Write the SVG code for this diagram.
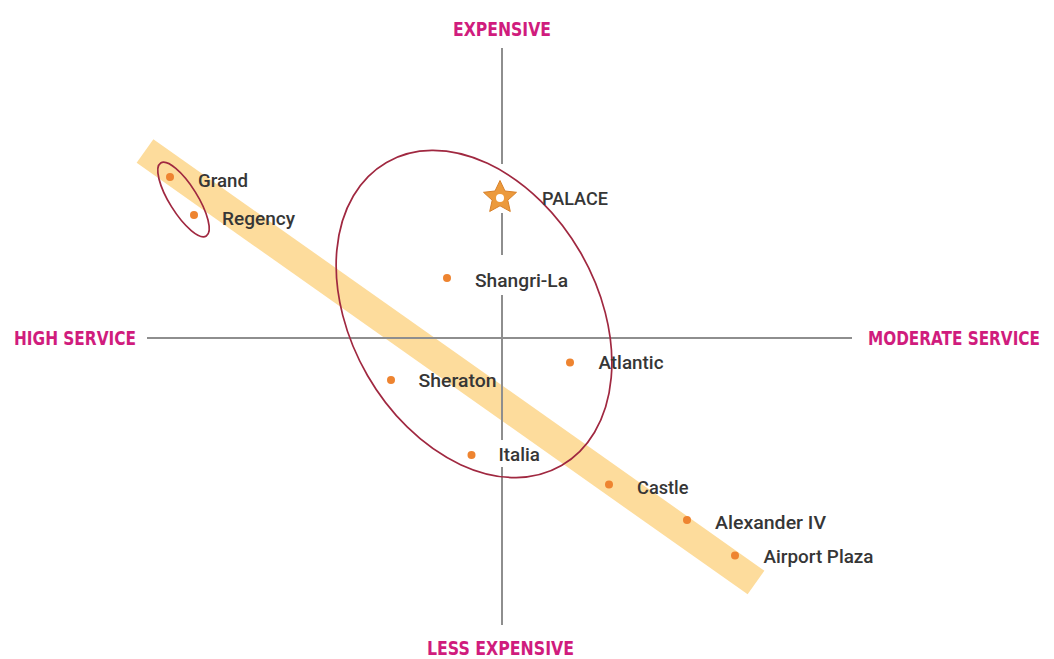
<svg xmlns="http://www.w3.org/2000/svg" width="1054" height="659" viewBox="0 0 1054 659">
<style>
.axis{stroke:#8e8e8e;stroke-width:2;fill:none}
.axlbl{font-family:"Liberation Sans Narrow","DejaVu Sans Condensed","Liberation Sans",sans-serif;font-weight:bold;font-size:16.5px;fill:#d01c7d}
.lbl{font-family:Roboto,"Liberation Sans",sans-serif;font-weight:500;font-size:19px;fill:#363636}
.dot{fill:#ee8430}
.ring{fill:none;stroke:#a02840;stroke-width:1.7}
</style>
<rect width="1054" height="659" fill="#ffffff"/>
<g id="trend-band">
<line x1="145" y1="151" x2="756" y2="582.5" stroke="#fddc9c" stroke-width="29"/>
</g>
<g id="axes">
<line class="axis" x1="147" y1="338" x2="852" y2="338"/>
<path class="axis" d="M502 48V164M502 213V255M502 295V440M502 467V625"/>
<text class="axlbl" transform="translate(453 36) scale(1 1.18)" textLength="98" lengthAdjust="spacingAndGlyphs">EXPENSIVE</text>
<text class="axlbl" transform="translate(427 655) scale(1 1.18)" textLength="147" lengthAdjust="spacingAndGlyphs">LESS EXPENSIVE</text>
<text class="axlbl" transform="translate(14 345) scale(1 1.18)" textLength="122" lengthAdjust="spacingAndGlyphs">HIGH SERVICE</text>
<text class="axlbl" transform="translate(868 345) scale(1 1.18)" textLength="172" lengthAdjust="spacingAndGlyphs">MODERATE SERVICE</text>
</g>
<g id="clusters">
<ellipse class="ring" cx="183.5" cy="199.5" rx="43" ry="14" transform="rotate(58 183.5 199.5)"/>
<ellipse class="ring" cx="474" cy="314" rx="175" ry="123" transform="rotate(60 474 314)"/>
</g>
<g id="grand"><circle class="dot" cx="170" cy="177" r="4"/><text class="lbl" x="198" y="186.5" textLength="50" lengthAdjust="spacingAndGlyphs">Grand</text></g>
<g id="regency"><circle class="dot" cx="194" cy="215" r="4"/><text class="lbl" x="222" y="225" textLength="73" lengthAdjust="spacingAndGlyphs">Regency</text></g>
<g id="palace">
<path d="M500 180.5L505 191L516.5 192.3L507.8 200.2L510.3 211.5L500 205.8L489.7 211.5L492.2 200.2L483.5 192.3L495 191Z" fill="#ec9a3c" stroke="#d8812a" stroke-width="1"/>
<circle cx="500" cy="198" r="4" fill="#ffffff"/>
<text class="lbl" x="542" y="205" textLength="66" lengthAdjust="spacingAndGlyphs">PALACE</text>
</g>
<g id="shangri-la"><circle class="dot" cx="447" cy="278" r="4"/><text class="lbl" x="475" y="286.5" textLength="93" lengthAdjust="spacingAndGlyphs">Shangri-La</text></g>
<g id="atlantic"><circle class="dot" cx="570" cy="362.5" r="4"/><text class="lbl" x="598.5" y="368.5" textLength="65" lengthAdjust="spacingAndGlyphs">Atlantic</text></g>
<g id="sheraton"><circle class="dot" cx="391" cy="380" r="4"/><text class="lbl" x="418.5" y="387" textLength="78" lengthAdjust="spacingAndGlyphs">Sheraton</text></g>
<g id="italia"><circle class="dot" cx="471.5" cy="455" r="4"/><text class="lbl" x="498.5" y="461" textLength="41.5" lengthAdjust="spacingAndGlyphs">Italia</text></g>
<g id="castle"><circle class="dot" cx="609" cy="484.5" r="4"/><text class="lbl" x="637" y="493.5" textLength="51.5" lengthAdjust="spacingAndGlyphs">Castle</text></g>
<g id="alexander-iv"><circle class="dot" cx="687" cy="520" r="4"/><text class="lbl" x="715" y="528.5" textLength="111" lengthAdjust="spacingAndGlyphs">Alexander IV</text></g>
<g id="airport-plaza"><circle class="dot" cx="735" cy="555.5" r="4"/><text class="lbl" x="763.5" y="563" textLength="110" lengthAdjust="spacingAndGlyphs">Airport Plaza</text></g>
</svg>
